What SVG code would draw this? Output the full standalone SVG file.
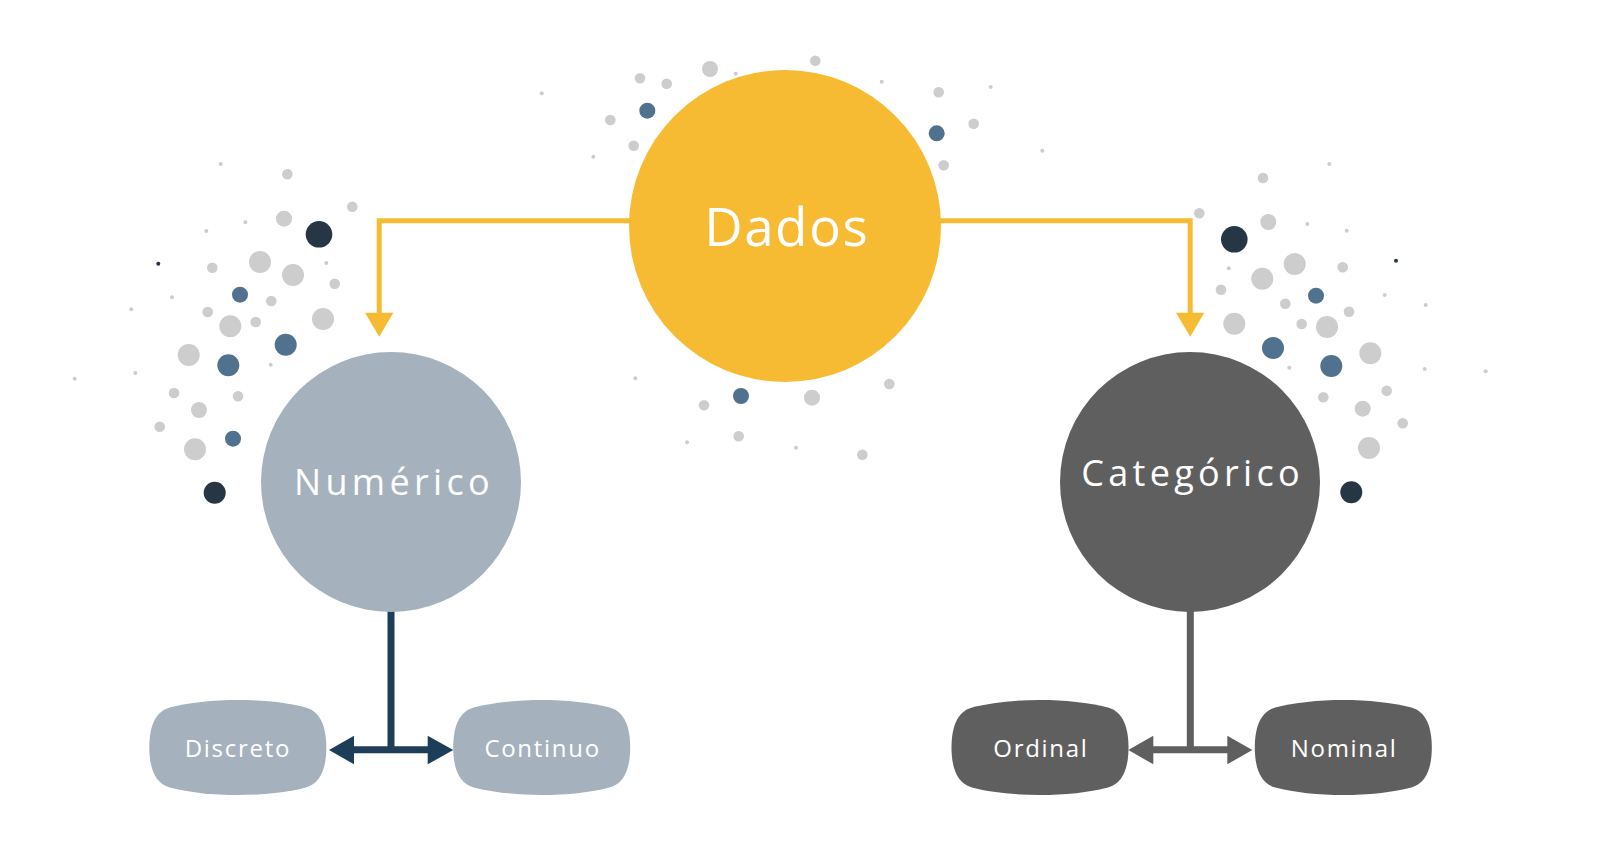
<svg xmlns="http://www.w3.org/2000/svg" xmlns:xlink="http://www.w3.org/1999/xlink" width="1624" height="866" viewBox="0 0 1624 866">
<defs>
<style>
.g{fill:#CDCDCD}
.b{fill:#50728F}
.d{fill:#273645}
.lbl{font-family:"Open Sans","Noto Sans","Liberation Sans",sans-serif;fill:#FFFFFF;text-anchor:middle}
.big{font-size:53px;letter-spacing:1.5px}
.mid{font-size:36px;letter-spacing:4.3px}
.small{font-size:24px;letter-spacing:1.7px}
.orange{stroke:#F7BB33;stroke-width:5;fill:none}
.navy{stroke:#1E3D59;stroke-width:7;fill:none}
.grey{stroke:#5F5F5F;stroke-width:7;fill:none}
</style>
<path id="pillow" d="M-68,-40 C-30,-50 30,-50 68,-40 C83,-36 88.5,-20 88.5,0 C88.5,20 83,36 68,40 C30,50 -30,50 -68,40 C-83,36 -88.5,20 -88.5,0 C-88.5,-20 -83,-36 -68,-40 Z"/>
</defs>
<rect width="1624" height="866" fill="#FFFFFF"/>

<g id="dots">
<circle class="g" cx="220.7" cy="164" r="2"/>
<circle class="g" cx="287.3" cy="174.3" r="5.3"/>
<circle class="g" cx="352.3" cy="206.7" r="5.3"/>
<circle class="g" cx="284" cy="218.7" r="8"/>
<circle class="d" cx="319" cy="234.3" r="13.3"/>
<circle class="g" cx="245.3" cy="222.3" r="2"/>
<circle class="g" cx="206.3" cy="231" r="2"/>
<circle class="d" cx="158.3" cy="263.7" r="2"/>
<circle class="g" cx="260" cy="262" r="11"/>
<circle class="g" cx="212.3" cy="267.7" r="5.3"/>
<circle class="g" cx="293" cy="275" r="11"/>
<circle class="g" cx="326.3" cy="263" r="2"/>
<circle class="g" cx="334.7" cy="283.7" r="5.3"/>
<circle class="b" cx="240" cy="294.7" r="8"/>
<circle class="g" cx="172" cy="297.3" r="2"/>
<circle class="g" cx="271.3" cy="301" r="5.3"/>
<circle class="g" cx="131.3" cy="309.3" r="2"/>
<circle class="g" cx="207.7" cy="312" r="5.3"/>
<circle class="g" cx="230.3" cy="326.3" r="11"/>
<circle class="g" cx="255.7" cy="322" r="5.3"/>
<circle class="g" cx="323" cy="319" r="11"/>
<circle class="b" cx="285.7" cy="344.7" r="11"/>
<circle class="g" cx="188.7" cy="355" r="11"/>
<circle class="b" cx="228.3" cy="365.3" r="11"/>
<circle class="g" cx="270.7" cy="364.7" r="2"/>
<circle class="g" cx="74.7" cy="378.7" r="2"/>
<circle class="g" cx="135.3" cy="373" r="2"/>
<circle class="g" cx="174" cy="393" r="5.3"/>
<circle class="g" cx="238" cy="396.3" r="5.3"/>
<circle class="g" cx="199" cy="410" r="8"/>
<circle class="g" cx="159.7" cy="426.7" r="5.3"/>
<circle class="b" cx="233" cy="438.7" r="8"/>
<circle class="g" cx="195" cy="449.3" r="11"/>
<circle class="d" cx="214.7" cy="492.7" r="11"/>

<circle class="g" cx="541.7" cy="93.3" r="2"/>
<circle class="g" cx="640" cy="78.3" r="5.3"/>
<circle class="g" cx="666.7" cy="83.7" r="5.3"/>
<circle class="g" cx="710" cy="69" r="8"/>
<circle class="g" cx="735.7" cy="73.7" r="2"/>
<circle class="g" cx="815.3" cy="60.7" r="5.3"/>
<circle class="b" cx="647.3" cy="110.7" r="8"/>
<circle class="g" cx="610.3" cy="120" r="5.3"/>
<circle class="g" cx="633.7" cy="145.7" r="5.3"/>
<circle class="g" cx="593.3" cy="156.7" r="2"/>
<circle class="g" cx="881.7" cy="81.7" r="2"/>
<circle class="g" cx="938.7" cy="92.3" r="5.3"/>
<circle class="g" cx="990.7" cy="87" r="2"/>
<circle class="b" cx="936.7" cy="133.3" r="8"/>
<circle class="g" cx="973.7" cy="123.7" r="5.3"/>
<circle class="g" cx="943.7" cy="165.3" r="5.3"/>
<circle class="g" cx="1042.3" cy="150.7" r="2"/>
<circle class="g" cx="635.3" cy="378.3" r="2"/>
<circle class="b" cx="741" cy="396" r="8"/>
<circle class="g" cx="704" cy="405.3" r="5.3"/>
<circle class="g" cx="812" cy="397.7" r="8"/>
<circle class="g" cx="889.3" cy="384" r="5.3"/>
<circle class="g" cx="738.7" cy="436.3" r="5.3"/>
<circle class="g" cx="687" cy="442.3" r="2"/>
<circle class="g" cx="796" cy="447.7" r="2"/>
<circle class="g" cx="862.3" cy="454.7" r="5.3"/>

<circle class="g" cx="1329.3" cy="164" r="2"/>
<circle class="g" cx="1263" cy="178" r="5.3"/>
<circle class="g" cx="1199.3" cy="213.3" r="5.3"/>
<circle class="g" cx="1268.3" cy="222" r="8"/>
<circle class="g" cx="1307.3" cy="224" r="2"/>
<circle class="g" cx="1346.7" cy="230.7" r="2"/>
<circle class="d" cx="1234.3" cy="239.3" r="13.3"/>
<circle class="d" cx="1396" cy="260.7" r="2"/>
<circle class="g" cx="1294.7" cy="264" r="11"/>
<circle class="g" cx="1342.7" cy="267.3" r="5.3"/>
<circle class="g" cx="1228.7" cy="268.3" r="2"/>
<circle class="g" cx="1262.3" cy="278.7" r="11"/>
<circle class="g" cx="1221" cy="289.7" r="5.3"/>
<circle class="b" cx="1316" cy="295.7" r="8"/>
<circle class="g" cx="1285.3" cy="303.7" r="5.3"/>
<circle class="g" cx="1384.7" cy="295" r="2"/>
<circle class="g" cx="1425.7" cy="305" r="2"/>
<circle class="g" cx="1349" cy="311.7" r="5.3"/>
<circle class="g" cx="1234.3" cy="323.7" r="11"/>
<circle class="g" cx="1301.7" cy="324" r="5.3"/>
<circle class="g" cx="1327" cy="327" r="11"/>
<circle class="b" cx="1273" cy="348" r="11"/>
<circle class="g" cx="1370.3" cy="353.3" r="11"/>
<circle class="b" cx="1331.3" cy="366" r="11"/>
<circle class="g" cx="1289.3" cy="367.7" r="2"/>
<circle class="g" cx="1424.7" cy="369" r="2"/>
<circle class="g" cx="1485.7" cy="371.3" r="2"/>
<circle class="g" cx="1323.3" cy="397.3" r="5.3"/>
<circle class="g" cx="1386.7" cy="390.7" r="5.3"/>
<circle class="g" cx="1362.7" cy="408.7" r="8"/>
<circle class="g" cx="1402.7" cy="423.3" r="5.3"/>
<circle class="g" cx="1369" cy="448" r="11"/>
<circle class="d" cx="1351.3" cy="492.3" r="11"/>
</g>

<g id="connectors">
<path class="orange" d="M630,220.7 H379.2 V314"/>
<polygon points="365,312.7 393.3,312.7 379.2,336.7" fill="#F7BB33"/>
<path class="orange" d="M940,220.7 H1190.2 V314"/>
<polygon points="1176,312.7 1204.3,312.7 1190.2,336.7" fill="#F7BB33"/>

<path class="navy" d="M391,608 V749.7 M354,749.7 H428"/>
<polygon points="329,750 354,735.7 354,764.3" fill="#1E3D59"/>
<polygon points="453.3,750 427.7,735.7 427.7,764.3" fill="#1E3D59"/>

<path class="grey" d="M1190.3,608 V749.7 M1153,749.7 H1228"/>
<polygon points="1128.3,750 1153.3,735.7 1153.3,764.3" fill="#5F5F5F"/>
<polygon points="1252.3,750 1227.3,735.7 1227.3,764.3" fill="#5F5F5F"/>
</g>

<g id="dados">
<circle cx="785" cy="226" r="156" fill="#F7BB33"/>
<text class="lbl big" x="786.7" y="246">Dados</text>
</g>
<g id="numerico">
<circle cx="391" cy="482" r="130" fill="#A5B1BC"/>
<text class="lbl mid" x="394" y="495">Numérico</text>
</g>
<g id="categorico">
<circle cx="1190" cy="482" r="130" fill="#5F5F5F"/>
<text class="lbl mid" x="1192.6" y="486">Categórico</text>
</g>
<g id="discreto">
<use xlink:href="#pillow" x="237.8" y="747.5" fill="#A5B1BC"/>
<text class="lbl small" x="237.9" y="756.7">Discreto</text>
</g>
<g id="continuo">
<use xlink:href="#pillow" x="541.7" y="747.5" fill="#A5B1BC"/>
<text class="lbl small" x="542.6" y="756.7">Continuo</text>
</g>
<g id="ordinal">
<use xlink:href="#pillow" x="1040" y="747.5" fill="#5F5F5F"/>
<text class="lbl small" x="1040.9" y="757.3">Ordinal</text>
</g>
<g id="nominal">
<use xlink:href="#pillow" x="1343.3" y="747.5" fill="#5F5F5F"/>
<text class="lbl small" x="1344.2" y="757.3">Nominal</text>
</g>
</svg>
